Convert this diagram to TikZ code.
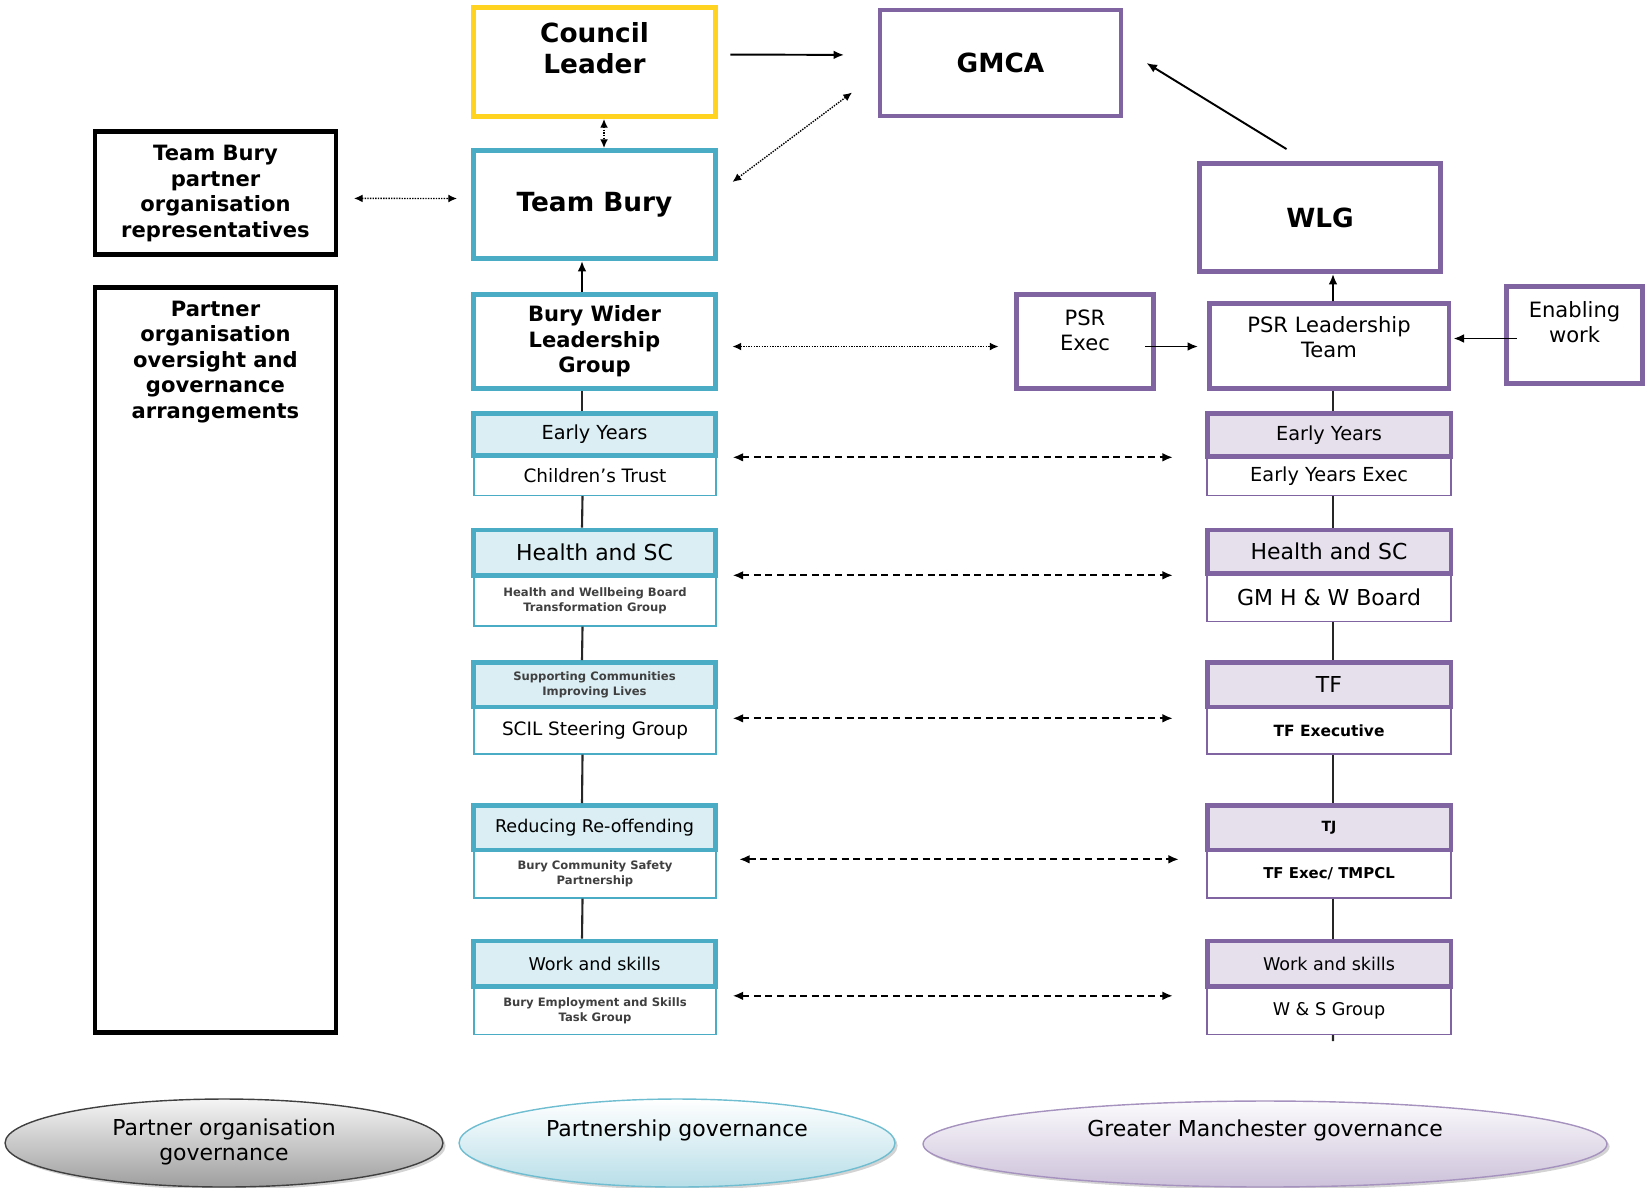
\documentclass[tikz,border=0pt]{standalone}
\usepackage{fontspec}
\setmainfont{DejaVu Sans}
\usetikzlibrary{arrows.meta,shapes.geometric,shadows}
\definecolor{cyellow}{HTML}{FFD320}
\definecolor{cteal}{HTML}{4BACC6}
\definecolor{clteal}{HTML}{DAEEF3}
\definecolor{cpurple}{HTML}{8064A2}
\definecolor{clpurple}{HTML}{E5E0EC}
\tikzset{
    box/.style ={
        rectangle,
        line width=2.8pt,
        inner sep=0pt,
        align=center
    },
    thinbox/.style ={
        rectangle,
        line width=0.8pt,
        fill=white,
        inner sep=0pt,
        align=center
    },
    headL/.style ={box, draw=cteal, fill=clteal, minimum width=4.84cm},
    lowL/.style ={thinbox, draw=cteal, minimum width=4.84cm},
    headR/.style ={box, draw=cpurple, fill=clpurple, minimum width=4.88cm},
    lowR/.style ={thinbox, draw=cpurple, minimum width=4.88cm},
    fbig/.style ={font=\bfseries\fontsize{15}{17.5}\selectfont, align=center},
    fmid/.style ={font=\bfseries\fontsize{12}{14.5}\selectfont, align=center},
    freg/.style ={font=\fontsize{12}{14.2}\selectfont, align=center},
    ftiny/.style ={font=\bfseries\fontsize{6.6}{8.3}\selectfont, text=black!75, align=center},
    oval/.style ={
        ellipse,
        line width=0.8pt,
        drop shadow={shadow xshift=1.5pt, shadow yshift=-1.5pt, opacity=0.35}
    },
    arr/.style ={-{Latex[length=6pt,width=5pt]}, line width=1.1pt},
    dotarr/.style ={{Latex[length=5pt,width=4.5pt]}-{Latex[length=5pt,width=4.5pt]}, line width=0.8pt, dash pattern=on 0.8pt off 0.7pt},
    dasharr/.style ={{Latex[length=6pt,width=5pt]}-{Latex[length=6pt,width=5pt]}, line width=1.1pt, dash pattern=on 4pt off 2.6pt},
    spine/.style ={line width=1.2pt, black!85}
}

\begin{document}
\begin{tikzpicture}[x=0.02cm, y=-0.02cm]
        \useasboundingbox (0,0) rectangle (1648,1187);
        % top row
        \node[box, draw=cyellow, minimum width=4.84cm, minimum height=2.18cm] (LEADER) at (594.5,62) {};
        \node[fbig] (LEADERTXT) at (594.5,48) {Council\\Leader};
        \node[box, draw=cpurple, minimum width=4.82cm, minimum height=2.12cm, fbig] (GMCA) at (1000.5,63) {GMCA};
        \node[box, draw=cteal, minimum width=4.84cm, minimum height=2.16cm, fbig] (TEAMBURY) at (594.5,204.5) {Team Bury};
        \node[box, draw=cpurple, minimum width=4.82cm, minimum height=2.16cm, fbig] (WLG) at (1320,217.5) {WLG};
        % partner organisations
        \node[box, draw=black, minimum width=4.82cm, minimum height=2.46cm, fmid] (REPS) at (215.5,193.4) {Team Bury\\partner\\organisation\\representatives};
        \node[box, draw=black, minimum width=4.82cm, minimum height=14.9cm] (OVERSIGHT) at (215.5,660) {};
        \node[fmid] (OVERSIGHTTXT) at (215.5,362) {Partner\\organisation\\oversight and\\governance\\arrangements};
        % leadership row
        \node[box, draw=cteal, minimum width=4.84cm, minimum height=1.88cm, fmid] (WIDER) at (594.5,341.5) {Bury Wider\\Leadership\\Group};
        \node[box, draw=cpurple, minimum width=2.74cm, minimum height=1.88cm] (PSREXEC) at (1085,341.5) {};
        \node[freg] (PSREXECTXT) at (1085,330) {PSR\\Exec};
        \node[box, draw=cpurple, minimum width=4.8cm, minimum height=1.7cm] (PSRLEAD) at (1329,346) {};
        \node[freg] (PSRLEADTXT) at (1329,337) {PSR Leadership\\Team};
        \node[box, draw=cpurple, minimum width=2.72cm, minimum height=1.94cm] (ENABLING) at (1574.5,335) {};
        \node[freg] (ENABLINGTXT) at (1574.5,322) {Enabling\\work};
        % partnership boards
        \node[lowL, minimum height=0.8cm, font=\fontsize{10.5}{12}\selectfont] (EYLB) at (595,475.5) {Children’s Trust};
        \node[headL, minimum height=0.84cm, font=\fontsize{11}{13}\selectfont] (EYL) at (594.5,434.5) {Early Years};
        \node[lowL, minimum height=1.01cm, ftiny] (HSCLB) at (595,600.75) {Health and Wellbeing Board\\Transformation Group};
        \node[headL, minimum height=0.91cm, font=\fontsize{12.5}{14}\selectfont] (HSCL) at (594.5,552.75) {Health and SC};
        \node[lowL, minimum height=0.94cm, font=\fontsize{10.5}{12}\selectfont] (SCILLB) at (595,730.5) {SCIL Steering Group};
        \node[headL, minimum height=0.89cm, ftiny] (SCILL) at (594.5,684.75) {Supporting Communities\\Improving Lives};
        \node[lowL, minimum height=0.96cm, ftiny] (RRLB) at (595,874) {Bury Community Safety\\Partnership};
        \node[headL, minimum height=0.89cm, font=\fontsize{10}{12}\selectfont] (RRL) at (594.5,827.75) {Reducing Re-offending};
        \node[lowL, minimum height=0.96cm, ftiny] (WSLB) at (595,1010.5) {Bury Employment and Skills\\Task Group};
        \node[headL, minimum height=0.91cm, font=\fontsize{10}{12}\selectfont] (WSL) at (594.5,963.75) {Work and skills};
        % greater manchester boards
        \node[lowR, minimum height=0.78cm, font=\fontsize{11}{13}\selectfont] (EYRB) at (1329,476) {Early Years Exec};
        \node[headR, minimum height=0.86cm, font=\fontsize{11}{13}\selectfont] (EYR) at (1329,435) {Early Years};
        \node[lowR, minimum height=0.96cm, font=\fontsize{12.5}{14}\selectfont] (HSCRB) at (1329,597.5) {GM H \& W Board};
        \node[headR, minimum height=0.87cm, font=\fontsize{12.5}{14}\selectfont] (HSCR) at (1329,551.75) {Health and SC};
        \node[lowR, minimum height=0.94cm, font=\bfseries\fontsize{8.8}{10}\selectfont] (TFRB) at (1329,730.5) {TF Executive};
        \node[headR, minimum height=0.89cm, font=\fontsize{12.5}{14}\selectfont] (TFR) at (1329,684.75) {TF};
        \node[lowR, minimum height=0.96cm, font=\bfseries\fontsize{8.5}{10}\selectfont] (TJRB) at (1329,874) {TF Exec/ TMPCL};
        \node[headR, minimum height=0.89cm, font=\bfseries\fontsize{8}{10}\selectfont] (TJR) at (1329,827.75) {TJ};
        \node[lowR, minimum height=0.96cm, font=\fontsize{10}{12}\selectfont] (WSRB) at (1329,1010.5) {W \& S Group};
        \node[headR, minimum height=0.91cm, font=\fontsize{10}{12}\selectfont] (WSR) at (1329,963.75) {Work and skills};
        \coordinate (STUB) at (1333,1041);
        % governance ovals
        \node[oval, draw=black!75, top color=black!4, bottom color=black!38, minimum width=8.76cm, minimum height=1.76cm] (PARTNEROVAL) at (224,1143) {};
        \node[freg, font=\fontsize{12.5}{14.3}\selectfont] (PARTNERTXT) at (224,1142) {Partner organisation\\governance};
        \node[oval, draw=cteal!80, top color=white, bottom color=cteal!40, minimum width=8.72cm, minimum height=1.76cm] (PSHIPOVAL) at (677,1143) {};
        \node[freg, font=\fontsize{12.5}{14.3}\selectfont] (PSHIPTXT) at (677,1130) {Partnership governance};
        \node[oval, draw=cpurple!70, top color=cpurple!3, bottom color=cpurple!40, minimum width=13.68cm, minimum height=1.72cm] (GMOVAL) at (1265,1144) {};
        \node[freg, font=\fontsize{12.5}{14.3}\selectfont] (GMTXT) at (1265,1130) {Greater Manchester governance};
        % connectors
        \draw[arr, shorten <=0.25cm, shorten >=0.67cm] ([yshift=0.15cm]LEADER.east) -- ([yshift=0.16cm]GMCA.west);
        \draw[dotarr] ([xshift=0.19cm]LEADER.south) -- ([xshift=0.19cm]TEAMBURY.north);
        \draw[dotarr] ([xshift=0.29cm,yshift=0.45cm]TEAMBURY.east) -- ([xshift=-0.51cm,yshift=-0.59cm]GMCA.west);
        \draw[arr] ([xshift=-0.67cm,yshift=0.24cm]WLG.north) -- ([xshift=0.46cm]GMCA.east);
        \draw[dotarr] ([xshift=0.31cm,yshift=-0.1cm]REPS.east) -- ([xshift=-0.28cm,yshift=0.12cm]TEAMBURY.west);
        \draw[arr] ([xshift=-0.25cm]WIDER.north) -- ([xshift=-0.25cm]TEAMBURY.south);
        \draw[dotarr] ([xshift=0.29cm,yshift=-0.1cm]WIDER.east) -- ([xshift=-0.31cm,yshift=-0.1cm]PSREXEC.west);
        \draw[arr] ([xshift=-0.21cm,yshift=-0.1cm]PSREXEC.east) coordinate (e1) -- ([xshift=-0.17cm]PSRLEAD.west |- e1);
        \draw[arr] ([xshift=0.25cm,yshift=-0.07cm]ENABLING.west) coordinate (e2) -- ([xshift=0.04cm]PSRLEAD.east |- e2);
        \draw[arr] ([xshift=0.08cm]PSRLEAD.north) -- ([xshift=0.26cm]WLG.south);
        \foreach \a/\b in {WIDER/EYL, EYLB/HSCL, HSCLB/SCILL, SCILLB/RRL, RRLB/WSL}
            \draw[spine] ([xshift=-0.25cm]\a.south) -- ([xshift=-0.25cm]\b.north);
        \foreach \a/\b in {PSRLEAD/EYR, EYRB/HSCR, HSCRB/TFR, TFRB/TJR, TJRB/WSR}
            \draw[spine] ([xshift=0.08cm]\a.south) -- ([xshift=0.08cm]\b.north);
        \draw[spine] ([xshift=0.08cm]WSRB.south) -- (STUB);
        \foreach \l/\r/\dy/\gl/\gr in {EYLB/EYRB/-0.05/0.32/0.67, HSCLB/HSCRB/-0.01/0.32/0.67, SCILLB/TFRB/-0.24/0.32/0.67, RRLB/TJRB/-0.2/0.45/0.55, WSLB/WSRB/-0.2/0.32/0.67}
            \draw[dasharr] ([xshift=\gl cm,yshift=\dy cm]\l.north east) coordinate (d0) -- ([xshift=-\gr cm]\r.north west |- d0);
    \end{tikzpicture}
\end{document}
